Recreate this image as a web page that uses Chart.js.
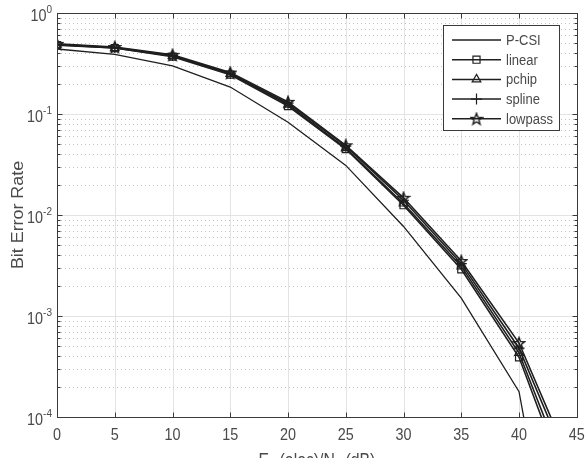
<!DOCTYPE html>
<html>
<head>
<meta charset="utf-8">
<script src="https://cdn.jsdelivr.net/npm/chart.js@4.4.1/dist/chart.umd.min.js"></script>
<style>
  html, body { margin: 0; padding: 0; background: #fff; }
  #wrap { width: 585px; height: 458px; position: relative; }
</style>
</head>
<body>
<div id="wrap"><canvas id="myChart"></canvas></div>
<script>
// values
const snr = [0, 5, 10, 15, 20, 25, 30, 35, 40, 45];
const berPCSI = [0.44, 0.39, 0.30, 0.185, 0.083, 0.031, 0.0077, 0.0015, 0.000178, 1.4e-7];
const berLinear = [0.48, 0.45, 0.37, 0.245, 0.12, 0.045, 0.0125, 0.0029, 0.00039, 1.15e-5];
const berPchip = [0.485, 0.45, 0.375, 0.25, 0.124, 0.046, 0.013, 0.0031, 0.00043, 1.5e-5];
const berSpline = [0.49, 0.455, 0.38, 0.252, 0.128, 0.048, 0.014, 0.0033, 0.00048, 2.1e-5];
const berLowpass = [0.495, 0.46, 0.385, 0.257, 0.132, 0.049, 0.0148, 0.0035, 0.00054, 2.5e-5];
const seriesNames = ["P-CSI", "linear", "pchip", "spline", "lowpass"];
const xTicks = [0, 5, 10, 15, 20, 25, 30, 35, 40, 45];
const yTickExps = [0, -1, -2, -3, -4];

const FONT = '"Liberation Sans", Arial, Helvetica, sans-serif';
const TEXT = "#4a4a4a";
const AXIS = "#3a3a3a";
const STRETCH = 1.13; // the picture is a bit taller than wide

// five pointed star marker (pentagram)
function makeStar(size) {
  const c = document.createElement("canvas");
  c.width = size;
  c.height = size;
  const g = c.getContext("2d");
  const cx = size / 2, cy = size / 2 + 0.5;
  const ro = size / 2 - 1, ri = ro * 0.42;
  g.beginPath();
  for (let i = 0; i < 10; i++) {
    const r = i % 2 === 0 ? ro : ri;
    const a = -Math.PI / 2 + i * Math.PI / 5;
    const px = cx + r * Math.cos(a), py = cy + r * Math.sin(a);
    if (i === 0) g.moveTo(px, py); else g.lineTo(px, py);
  }
  g.closePath();
  g.lineWidth = 1.4;
  g.strokeStyle = "#1a1a1a";
  g.stroke();
  return c;
}
const starImg = makeStar(14);

function toPoints(ys) {
  return snr.map((x, i) => ({ x: x, y: ys[i] }));
}

const datasets = [
  { label: seriesNames[0], data: toPoints(berPCSI), pointStyle: false, borderWidth: 1.3, pointRadius: 0 },
  { label: seriesNames[1], data: toPoints(berLinear), pointStyle: "rect", pointRadius: 5 },
  { label: seriesNames[2], data: toPoints(berPchip), pointStyle: "triangle", pointRadius: 5 },
  { label: seriesNames[3], data: toPoints(berSpline), pointStyle: "cross", pointRadius: 5.5 },
  { label: seriesNames[4], data: toPoints(berLowpass), pointStyle: starImg, pointRadius: 7 },
].map((d) => Object.assign({
  borderColor: "#1f1f1f",
  backgroundColor: "rgba(0,0,0,0)",
  pointBorderColor: "#1f1f1f",
  pointBackgroundColor: "rgba(0,0,0,0)",
  pointBorderWidth: 1.2,
  borderWidth: 1.6,
  tension: 0,
  fill: false,
}, d));

// markers only up to 40 dB (last point is off the bottom)
datasets.forEach((d) => {
  if (d.pointStyle) {
    d.legendRadius = d.pointRadius;
    d.pointRadius = snr.map((x) => (x <= 40 ? d.legendRadius : 0));
  }
});

// text drawn with a small vertical stretch, like the reference
function text(ctx, str, x, y, size, align, rotate) {
  ctx.save();
  ctx.translate(x, y);
  if (rotate) {
    ctx.rotate(-Math.PI / 2);
    ctx.scale(STRETCH, 1);
  } else {
    ctx.scale(1, STRETCH);
  }
  ctx.font = size + "px " + FONT;
  ctx.textAlign = align;
  ctx.textBaseline = "middle";
  ctx.fillText(str, 0, 0);
  ctx.restore();
}

const matlabAxes = {
  id: "matlabAxes",
  beforeDatasetsDraw(chart) {
    const ctx = chart.ctx;
    const area = chart.chartArea;
    const xs = chart.scales.x, ys = chart.scales.y;
    ctx.save();
    ctx.lineWidth = 1;
    // major vertical grid
    ctx.strokeStyle = "#e3e3e3";
    xTicks.forEach((t) => {
      const px = Math.round(xs.getPixelForValue(t)) + 0.5;
      ctx.beginPath();
      ctx.moveTo(px, area.top);
      ctx.lineTo(px, area.bottom);
      ctx.stroke();
    });
    // minor horizontal grid (dotted)
    ctx.strokeStyle = "#c4c4c4";
    ctx.setLineDash([1, 3]);
    yTickExps.forEach((e) => {
      if (e === 0) return;
      for (let m = 2; m <= 9; m++) {
        const py = Math.round(ys.getPixelForValue(m * Math.pow(10, e))) + 0.5;
        ctx.beginPath();
        ctx.moveTo(area.left, py);
        ctx.lineTo(area.right, py);
        ctx.stroke();
      }
    });
    ctx.setLineDash([]);
    // major horizontal grid
    ctx.strokeStyle = "#e3e3e3";
    yTickExps.forEach((e) => {
      const py = Math.round(ys.getPixelForValue(Math.pow(10, e))) + 0.5;
      ctx.beginPath();
      ctx.moveTo(area.left, py);
      ctx.lineTo(area.right, py);
      ctx.stroke();
    });
    ctx.restore();
  },
  afterDatasetsDraw(chart) {
    const ctx = chart.ctx;
    const area = chart.chartArea;
    const xs = chart.scales.x, ys = chart.scales.y;
    ctx.save();
    ctx.strokeStyle = AXIS;
    ctx.lineWidth = 1;
    const L = Math.round(area.left) + 0.5, R = Math.round(area.right) + 0.5;
    const T = Math.round(area.top) + 0.5, B = Math.round(area.bottom) + 0.5;
    ctx.strokeRect(L, T, R - L, B - T);

    // x ticks (inward, top and bottom)
    ctx.beginPath();
    xTicks.forEach((t) => {
      const px = Math.round(xs.getPixelForValue(t)) + 0.5;
      ctx.moveTo(px, B); ctx.lineTo(px, B - 5);
      ctx.moveTo(px, T); ctx.lineTo(px, T + 5);
    });
    // y ticks, major and minor
    yTickExps.forEach((e) => {
      for (let m = 1; m <= 9; m++) {
        if (e === 0 && m > 1) break;
        const py = Math.round(ys.getPixelForValue(m * Math.pow(10, e))) + 0.5;
        const len = m === 1 ? 5 : 3;
        ctx.moveTo(L, py); ctx.lineTo(L + len, py);
        ctx.moveTo(R, py); ctx.lineTo(R - len, py);
      }
    });
    ctx.stroke();

    ctx.fillStyle = TEXT;
    // x tick labels
    xTicks.forEach((t) => {
      text(ctx, String(t), xs.getPixelForValue(t), area.bottom + 19, 14.4, "center");
    });

    // y tick labels: 10 with superscript exponent
    yTickExps.forEach((e) => {
      const py = ys.getPixelForValue(Math.pow(10, e));
      const expText = String(e);
      ctx.font = "10px " + FONT;
      const ew = ctx.measureText(expText).width;
      text(ctx, expText, area.left - 5, py - 3, 10, "right");
      text(ctx, "10", area.left - 5 - ew, py + 4, 14.4, "right");
    });

    // axis titles
    text(ctx, "Bit Error Rate", 19, (area.top + area.bottom) / 2, 15.8, "center", true);

    const cx = (area.left + area.right) / 2;
    const ty = area.bottom + 44;
    const parts = [
      ["E", 15.8, 0], ["b", 11, 5], [" (elec)/N", 15.8, 0], ["0", 11, 5], [" (dB)", 15.8, 0],
    ];
    let total = 0;
    parts.forEach((p) => { ctx.font = p[1] + "px " + FONT; total += ctx.measureText(p[0]).width; });
    let x = cx - total / 2;
    parts.forEach((p) => {
      text(ctx, p[0], x, ty + p[2], p[1], "left");
      ctx.font = p[1] + "px " + FONT;
      x += ctx.measureText(p[0]).width;
    });

    // legend box
    const bx = 443.5, by = 25.5, bw = 116, bh = 105;
    ctx.fillStyle = "#fff";
    ctx.fillRect(bx, by, bw, bh);
    ctx.strokeStyle = AXIS;
    ctx.strokeRect(bx, by, bw, bh);
    chart.data.datasets.forEach((d, i) => {
      const ly = 40 + i * 19.7;
      ctx.strokeStyle = d.borderColor;
      ctx.lineWidth = 1.5;
      ctx.beginPath();
      ctx.moveTo(452, ly);
      ctx.lineTo(501, ly);
      ctx.stroke();
      if (d.pointStyle) {
        ctx.lineWidth = d.pointBorderWidth;
        ctx.strokeStyle = d.pointBorderColor;
        ctx.fillStyle = "rgba(0,0,0,0)";
        Chart.helpers.drawPoint(ctx, {
          pointStyle: d.pointStyle,
          radius: d.legendRadius,
          rotation: 0,
          borderWidth: d.pointBorderWidth,
        }, 476.5, ly);
      }
      ctx.fillStyle = TEXT;
      text(ctx, d.label, 506, ly + 1, 13, "left");
    });
    ctx.restore();
  },
};

const ctx = document.getElementById("myChart").getContext("2d");
const myChart = new Chart(ctx, {
  type: "line",
  data: { datasets: datasets },
  options: {
    responsive: true,
    maintainAspectRatio: false,
    animation: false,
    layout: { padding: { left: 57, right: 7, top: 13, bottom: 41 } },
    scales: {
      x: { type: "linear", min: 0, max: 45, display: false },
      y: { type: "logarithmic", min: 1e-4, max: 1, display: false },
    },
    plugins: {
      legend: { display: false },
      tooltip: { enabled: false },
    },
  },
  plugins: [matlabAxes],
});
</script>
</body>
</html>
